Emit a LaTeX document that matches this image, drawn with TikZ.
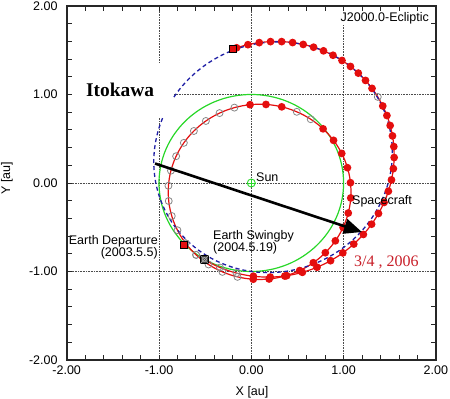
\documentclass[tikz,border=0pt]{standalone}
\usepackage{fontspec}
\setmainfont{Liberation Sans}
\newfontfamily\timesfont{Liberation Serif}
\usetikzlibrary{arrows.meta}
\definecolor{OrbitRed}{RGB}{228,14,14}
\definecolor{EarthGreen}{RGB}{40,215,40}
\definecolor{ItokawaBlue}{RGB}{30,30,165}
\definecolor{CoastGrey}{RGB}{135,135,135}
\definecolor{DateRed}{RGB}{200,30,40}
\newcommand{\plotfont}{\fontsize{12.5}{12}\selectfont}
% position on the transfer orbit after the swingby, one step = 10 days
\newcommand{\scpos}[1]{%
  \pgfmathsetmacro\scM{5.47+6.28*#1}%
  \pgfmathsetmacro\scE{\scM+14.84*sin(\scM)}%
  \pgfmathsetmacro\scE{\scM+14.84*sin(\scE)}%
  \pgfmathsetmacro\scE{\scM+14.84*sin(\scE)}%
  \pgfmathsetmacro\scE{\scM+14.84*sin(\scE)}%
  \pgfmathsetmacro\scX{-0.6428*1.35*(cos(\scE)-0.259)+0.7660*1.304*sin(\scE)}%
  \pgfmathsetmacro\scY{-0.7660*1.35*(cos(\scE)-0.259)-0.6428*1.304*sin(\scE)}%
}

\begin{document}
\begin{tikzpicture}[x=92.3pt,y=88.5pt,
    every node/.style={font=\plotfont},
    gridline/.style={densely dotted,black!70,line width=0.6pt},
    axtick/.style={black!85,line width=0.9pt},
    orbit/.style={OrbitRed,line width=1.2pt},
    thrustdot/.style={OrbitRed},
    coastdot/.style={CoastGrey,line width=0.8pt},
    sqmark/.style={rectangle,draw=black,line width=0.9pt,fill=OrbitRed,minimum size=7.5pt,inner sep=0pt},
    swbmark/.style={rectangle,draw=black,line width=0.9pt,fill=black!75,minimum size=7.5pt,inner sep=0pt},
    sunmark/.style={circle,draw=EarthGreen,line width=0.9pt,minimum size=8pt,inner sep=0pt}]
  \useasboundingbox (-2.7227,-2.4407) rectangle (2.1528,2.0678);

  % grid
  \foreach \g in {-1,0,1} {
    \draw[gridline] (\g,-2) -- (\g,2);
    \draw[gridline] (-2,\g) -- (2,\g);
  }

  % earth orbit
  \draw[EarthGreen,line width=1.2pt] (0,0) circle[radius=1];

  % first revolution after departure
  \draw[orbit] plot[domain=216:592,samples=150] ({0.09+0.99*cos(\x)},{-0.1+0.99*sin(\x)});
  % transfer orbit after the swingby
  \draw[orbit] plot[domain=7.37:239.7,samples=120,variable=\e]
    ({-0.6428*1.35*(cos(\e)-0.259)+0.7660*1.304*sin(\e)},{-0.7660*1.35*(cos(\e)-0.259)-0.6428*1.304*sin(\e)});

  % itokawa orbit
  \draw[ItokawaBlue,line width=1.3pt,dash pattern=on 4pt off 3pt] plot[domain=0:360,samples=150,variable=\t]
    ({0.236+1.325*cos(\t)*0.6293-1.271*sin(\t)*0.7771},{0.291+1.325*cos(\t)*0.7771+1.271*sin(\t)*0.6293});

  % 10-day marks
  \foreach \a in {266,276,...,406,436,446,456}
    \fill[thrustdot] ({0.09+0.99*cos(\a)},{-0.1+0.99*sin(\a)}) circle (3.9pt);
  \foreach \a in {216,226,...,256,416,426,466,476,...,586}
    \draw[coastdot] ({0.09+0.99*cos(\a)},{-0.1+0.99*sin(\a)}) circle (3.5pt);
  \foreach \k in {3,...,23,25,26,...,39} {
    \scpos{\k}
    \fill[thrustdot] (\scX,\scY) circle (3.9pt);
  }
  \foreach \k in {1,2,24} {
    \scpos{\k}
    \draw[coastdot] (\scX,\scY) circle (3.5pt);
  }

  % events
  \node[sunmark] (sun) at (0,0) {};
  \draw[EarthGreen,line width=0.9pt] (sun.north) -- (sun.south) (sun.west) -- (sun.east);
  \node[sqmark] (departure) at (-0.729,-0.70) {};
  \node[swbmark] (swingby) at (-0.508,-0.865) {};
  \draw[black!30,line width=0.5pt] (swingby.center) circle (2.2pt)
    (swingby.south west) -- (swingby.north east) (swingby.north west) -- (swingby.south east);
  \node[sqmark] (arrival) at (-0.200,1.513) {};

  % labels
  \node[anchor=south west,inner sep=1pt] (sunlbl) at (0.04,0) {Sun};
  \node[anchor=west,inner sep=0pt] (sclbl) at (1.091,-0.203) {Spacecraft};
  \node[anchor=east,align=right,inner sep=0pt] (deplbl) at (-1.011,-0.723) {Earth Departure\\(2003.5.5)};
  \node[anchor=west,align=left,inner sep=0pt] (swblbl) at (-0.415,-0.667) {Earth Swingby\\(2004.5.19)};
  \node[anchor=west,fill=white,inner sep=1pt] (framelbl) at (0.955,1.864) {J2000.0-Ecliptic};
  \node[fill=white,minimum width=106pt,minimum height=54pt,inner sep=0pt,
        font=\timesfont\bfseries\fontsize{19.4}{20}\selectfont] (itokawa) at (-1.422,1.051) {Itokawa};
  \node[anchor=west,inner sep=0pt,text=DateRed,font=\timesfont\fontsize{16}{18}\selectfont] (datelbl) at (1.113,-0.893) {3/4 , 2006};

  % arrow to the position on 3/4, 2006
  \coordinate (arrowtail) at (-1.043,0.22);
  \coordinate (mar06) at (1.199,-0.554);
  \draw[line width=2.6pt,-{Triangle[length=18pt,width=15pt]}] (arrowtail) -- (mar06);

  % frame, ticks, axis labels
  \foreach \i in {1,...,19} {
    \pgfmathsetmacro\v{-2+0.2*\i}
    \draw[axtick] (-2,\v) -- ++(5pt,0);
    \draw[axtick] (2,\v) -- ++(-5pt,0);
    \draw[axtick] (\v,-2) -- ++(0,5pt);
    \draw[axtick] (\v,2) -- ++(0,-5pt);
  }
  \draw[black!85,line width=1.6pt] (-2,-2) rectangle (2,2);
  \foreach \v/\t in {-2/-2.00,-1/-1.00,0/0.00,1/1.00,2/2.00} {
    \node[anchor=east,inner sep=0pt] at (-2.0975,\v) {\t};
    \node[below,inner sep=0pt] at (\v,-2.06) {\t};
  }
  \node (xlbl) at (0.008,-2.362) {X [au]};
  \node[rotate=90] (ylbl) at (-2.647,0.057) {Y [au]};
\end{tikzpicture}
\end{document}
